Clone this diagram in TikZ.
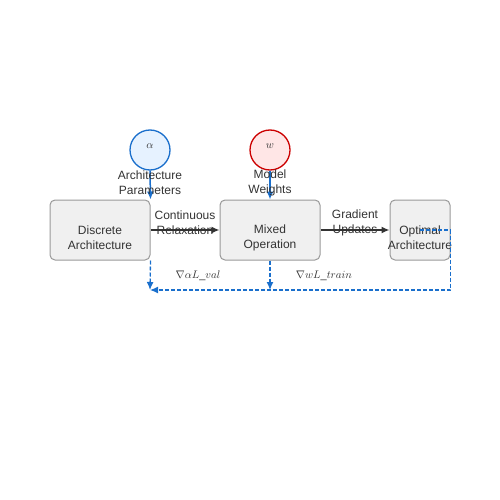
\documentclass[tikz,border=0pt]{standalone}
\usepackage{amsmath}
\usepackage{fontspec}
\setmainfont{Liberation Sans}
\usepackage{tikz}
\usetikzlibrary{positioning, shapes, arrows, arrows.meta}

\definecolor{boxfill}{HTML}{F0F0F0}
\definecolor{boxline}{HTML}{999999}
\definecolor{alphafill}{HTML}{E6F2FF}
\definecolor{alphaline}{HTML}{1A6FCC}
\definecolor{wfill}{HTML}{FFE6E6}
\definecolor{wline}{HTML}{CC0000}
\definecolor{arrline}{HTML}{333333}

\begin{document}
\begin{tikzpicture}[x=1pt, y=-1pt, inner sep=0pt,
    font=\fontsize{12}{15}\selectfont, text=arrline,
    stage/.style={draw=boxline, fill=boxfill, rounded corners=5pt, minimum height=60pt, line width=1pt},
    param/.style={circle, minimum size=40pt, line width=1.3pt},
    lbl/.style={align=center},
    flow/.style={-{Latex[length=8pt,width=7pt]}, draw=arrline, line width=1.5pt},
    feed/.style={-{Latex[length=8pt,width=7pt]}, draw=alphaline, line width=1.5pt},
    grad/.style={-{Latex[length=8pt,width=7pt]}, draw=alphaline, dash pattern=on 4pt off 2pt, line width=1.3pt}]
  \useasboundingbox (0,0) rectangle (500,500);

  	\node[stage, minimum width=100pt] (D1) at (100,230) {};
  	\node[stage, minimum width=100pt] (D2) at (270,230) {};
  	\node[stage, minimum width=60pt] (D3) at (420,230) {};
  	\node[lbl] (T1) at (100,238) {Discrete\\Architecture};
  	\node[lbl] (T2) at (270,238) {Mixed\\Operation};
  	\node[lbl] (T3) at (420,238) {Optimal\\Architecture};

  	\node[param, draw=alphaline, fill=alphafill] (A) at (150,150) {};
  	\node[param, draw=wline, fill=wfill] (W) at (270,150) {};
  	\node[] (A1) at (150,146) {\fontsize{11}{13}\selectfont $\alpha$};
  	\node[] (W1) at (270,146) {\fontsize{11}{13}\selectfont $w$};

  	\draw[feed] (A.south) -- (D1.north east);
  	\draw[feed] (W.south) -- (D2.north);
  	\node[lbl] (A2) at (150,183) {Architecture\\Parameters};
  	\node[lbl] (W2) at (270,183) {Model\\Weights};

  	\draw[flow] (D1.east) -- (D2.west);
  	\draw[flow] (D2.east) -- (D3.west);
  	\node[lbl] (R1) at (185,223) {Continuous\\Relaxation};
  	\node[lbl] (R2) at (355,223) {Gradient\\Updates};

  	\coordinate (B1) at (150,290);
  	\coordinate (B2) at (270,290);
  	\draw[grad] (D1.south east) -- (B1);
  	\draw[grad] (D2.south) -- (B2);
  	\draw[grad] (D3.center) -- (D3.east) -- (D3.east |- B1) -- (B1);
  	\node[] (G1) at (198,276) {\fontsize{11}{13}\selectfont $\nabla\alpha L\_val$};
  	\node[] (G2) at (324,276) {\fontsize{11}{13}\selectfont $\nabla w L\_train$};
\end{tikzpicture}
\end{document}
